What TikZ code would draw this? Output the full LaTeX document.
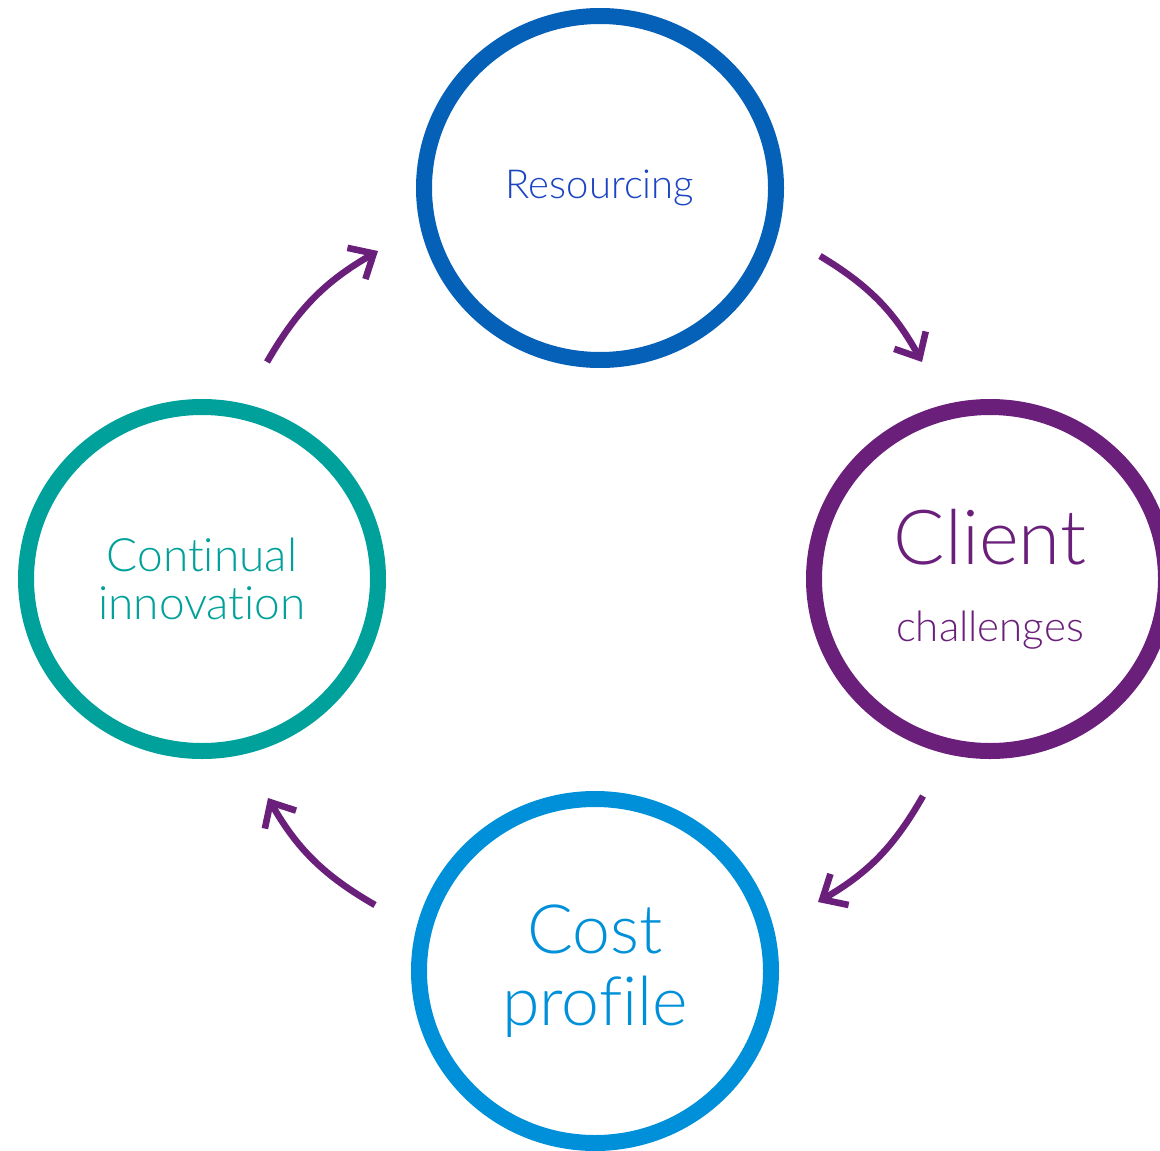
\documentclass[tikz,border=0pt]{standalone}
\usepackage{fontspec}
\setmainfont{Lato}[UprightFont=* Light,RawFeature=-liga]
\usetikzlibrary{arrows.meta,calc,shapes.geometric}
\definecolor{resblue}{HTML}{0560B8}
\definecolor{restext}{HTML}{1B44C2}
\definecolor{clipurple}{HTML}{6A1F7A}
\definecolor{innoteal}{HTML}{00A19A}
\definecolor{costblue}{HTML}{0090DA}
\begin{document}
\begin{tikzpicture}[x=0.5pt,y=-0.5pt,
	ring/.style={draw,ellipse,line width=8pt,inner sep=0pt,
		minimum width=176pt,minimum height=172pt,align=center},
	cyc/.style={draw=clipurple,line width=3.3pt,-{Straight Barb[length=10pt,width=18pt]}}]
	%page
	\clip (0,0) rectangle (1160,1150);
	
	%circles
	\node[ring,draw=resblue,text=restext,font=\fontsize{20}{22}\selectfont] (res) at (600,188) {Resourcing};
	\node[ring,draw=clipurple,text=clipurple] (cli) at (990,579)
		{\fontsize{38}{40}\selectfont Client\\[22pt]\fontsize{21}{22}\selectfont challenges};
	\node[ring,draw=costblue,text=costblue,font=\fontsize{34}{36}\selectfont] (cost) at (595,971) {Cost\\profile};
	\node[ring,draw=innoteal,text=innoteal,font=\fontsize{23}{24}\selectfont] (inno) at (202,579) {Continual\\innovation};
	
	%arrows
	\draw[cyc] ($(res)+(220,68)$) to[bend left=15] ($(cli)+(-68,-217)$); %res to cli
	\draw[cyc] ($(cli)+(-67,217)$) to[bend left=15] ($(cost)+(223,-69)$); %cli to cost
	\draw[cyc] ($(cost)+(-220,-66)$) to[bend left=15] ($(inno)+(66,219)$); %cost to inno
	\draw[cyc] ($(inno)+(65,-217)$) to[bend left=15] ($(res)+(-222,63)$); %inno to res
\end{tikzpicture}
\end{document}
